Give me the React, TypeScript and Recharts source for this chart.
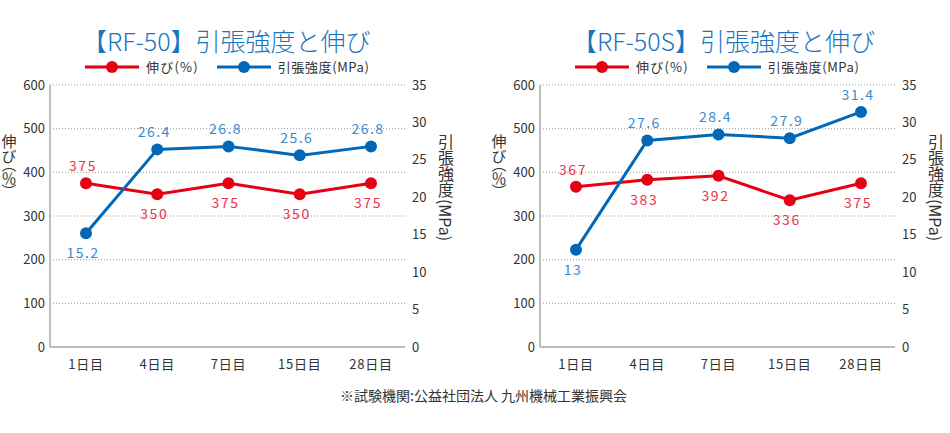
import React from "react";
import {
  LineChart,
  Line,
  XAxis,
  YAxis,
  CartesianGrid,
  Legend,
  LabelList,
  Label,
} from "recharts";

// ---- data ----
const days = ["1日目", "4日目", "7日目", "15日目", "28日目"];

const rf50Elongation = [375, 350, 375, 350, 375];
const rf50Tensile = [15.2, 26.4, 26.8, 25.6, 26.8];

const rf50sElongation = [367, 383, 392, 336, 375];
const rf50sTensile = [13, 27.6, 28.4, 27.9, 31.4];

const elongationTicks = [0, 100, 200, 300, 400, 500, 600];
const tensileTicks = [0, 5, 10, 15, 20, 25, 30, 35];

// where each value label sits relative to its point
const elongationLabelSide = ["top", "bottom", "bottom", "bottom", "bottom"];
const tensileLabelSide = ["bottom", "top", "top", "top", "top"];

const FONT = '"Noto Sans CJK JP", "Noto Sans", sans-serif';
const RED = "#e60012";
const BLUE = "#0068b7";
const RED_TEXT = "#e8334a";
const BLUE_TEXT = "#3a8ad0";
const TEXT = "#333";

const W = 460;
const H = 400;

function LegendBox() {
  const item = (color: string, text: string, spacing: number) => (
    <div style={{ display: "flex", alignItems: "center", marginRight: 18 }}>
      <svg width={54} height={14}>
        <line x1={0} y1={7} x2={54} y2={7} stroke={color} strokeWidth={3} />
        <circle cx={27} cy={7} r={6} fill={color} />
      </svg>
      <span style={{ marginLeft: 7, fontSize: 13, color: TEXT, letterSpacing: spacing }}>{text}</span>
    </div>
  );
  return (
    <div style={{ display: "flex", fontFamily: FONT, lineHeight: "18px" }}>
      {item(RED, "伸び(%)", 1.2)}
      {item(BLUE, "引張強度(MPa)", 0.6)}
    </div>
  );
}

function valueLabel(sides: string[], color: string) {
  // eslint-disable-next-line @typescript-eslint/no-explicit-any
  return (p: any) => {
    const side = sides[p.index];
    const y = side === "top" ? p.y - 18 : p.y + 19;
    return (
      <text
        x={p.x - 3}
        y={y}
        textAnchor="middle"
        dominantBaseline="central"
        fill={color}
        fontSize={14}
        letterSpacing={1.5}
        fontFamily={FONT}
      >
        {p.value}
      </text>
    );
  };
}

const vertical: React.CSSProperties = {
  writingMode: "vertical-rl",
  fontFeatureSettings: '"vpal"',
};

const leftTitle = () => (
  <text
    x={9}
    y={134}
    fill={TEXT}
    fontSize={15}
    fontFamily={FONT}
    dominantBaseline="central"
    style={vertical}
  >
    伸び（％）
  </text>
);

const rightTitle = () => (
  <g fill={TEXT} fontFamily={FONT} fontSize={16}>
    <text x={446} y={134} dominantBaseline="central" style={vertical}>
      引張強度
    </text>
    <text
      x={446}
      y={220}
      textAnchor="middle"
      dominantBaseline="central"
      transform="rotate(90 446 220)"
    >
      (MPa)
    </text>
  </g>
);

interface PanelProps {
  title: string;
  elongation: number[];
  tensile: number[];
  left: number;
}

function Panel({ title, elongation, tensile, left }: PanelProps) {
  const data = days.map((d, i) => ({
    day: d,
    elongation: elongation[i],
    tensile: tensile[i],
  }));

  return (
    <div style={{ position: "absolute", left, top: 0, width: W, height: H }}>
      <div
        style={{
          position: "absolute",
          left: 82,
          top: 25,
          fontSize: 25,
          fontWeight: 300,
          lineHeight: "30px",
          color: "#1b74bf",
          fontFamily: FONT,
          whiteSpace: "nowrap",
        }}
      >
        {title}
      </div>
      <LineChart
        width={W}
        height={H}
        data={data}
        margin={{ top: 85, right: 5, bottom: 23, left: 10 }}
        style={{ position: "absolute", left: 0, top: 0 }}
      >
        <CartesianGrid
          yAxisId="l"
          vertical={false}
          stroke="#999"
          strokeDasharray="1 2"
        />
        <XAxis
          dataKey="day"
          height={30}
          padding={{ left: 36, right: 34 }}
          tickLine={false}
          tickSize={0}
          tickMargin={13}
          axisLine={{ stroke: "#aaa", strokeWidth: 1.5 }}
          tick={{ fill: TEXT, fontSize: 13, fontFamily: FONT, letterSpacing: 0.8 }}
        />
        <YAxis
          yAxisId="l"
          orientation="left"
          width={40}
          domain={[0, 600]}
          ticks={elongationTicks}
          tickLine={false}
          tickSize={0}
          tickMargin={5}
          axisLine={{ stroke: "#aaa", strokeWidth: 1.5 }}
          tick={{ fill: TEXT, fontSize: 13, fontFamily: FONT }}
        >
          <Label content={leftTitle} />
        </YAxis>
        <YAxis
          yAxisId="r"
          orientation="right"
          width={50}
          domain={[0, 35]}
          ticks={tensileTicks}
          tickLine={false}
          tickSize={0}
          tickMargin={7}
          axisLine={false}
          tick={{ fill: TEXT, fontSize: 13, fontFamily: FONT, textAnchor: "start" }}
        >
          <Label content={rightTitle} />
        </YAxis>
        <Legend
          layout="horizontal"
          verticalAlign="middle"
          align="center"
          wrapperStyle={{ top: 58, left: 85, width: 380 }}
          content={() => <LegendBox />}
        />
        <Line
          yAxisId="l"
          dataKey="elongation"
          stroke={RED}
          strokeWidth={3}
          dot={{ r: 6, fill: RED, stroke: RED, strokeWidth: 0 }}
          activeDot={false}
          isAnimationActive={false}
        >
          <LabelList dataKey="elongation" content={valueLabel(elongationLabelSide, RED_TEXT)} />
        </Line>
        <Line
          yAxisId="r"
          dataKey="tensile"
          stroke={BLUE}
          strokeWidth={3}
          dot={{ r: 6, fill: BLUE, stroke: BLUE, strokeWidth: 0 }}
          activeDot={false}
          isAnimationActive={false}
        >
          <LabelList dataKey="tensile" content={valueLabel(tensileLabelSide, BLUE_TEXT)} />
        </Line>
      </LineChart>
    </div>
  );
}

export default function App() {
  return (
    <div
      style={{
        position: "absolute",
        left: 0,
        top: 0,
        width: 950,
        height: 433,
        background: "#fff",
        fontFamily: FONT,
        overflow: "hidden",
      }}
    >
      <Panel title="【RF-50】引張強度と伸び" elongation={rf50Elongation} tensile={rf50Tensile} left={0} />
      <Panel title="【RF-50S】引張強度と伸び" elongation={rf50sElongation} tensile={rf50sTensile} left={490} />
      <div
        style={{
          position: "absolute",
          left: 340,
          top: 386,
          fontSize: 14,
          lineHeight: "18px",
          color: TEXT,
          whiteSpace: "nowrap",
        }}
      >
        ※試験機関:公益社団法人 九州機械工業振興会
      </div>
    </div>
  );
}
